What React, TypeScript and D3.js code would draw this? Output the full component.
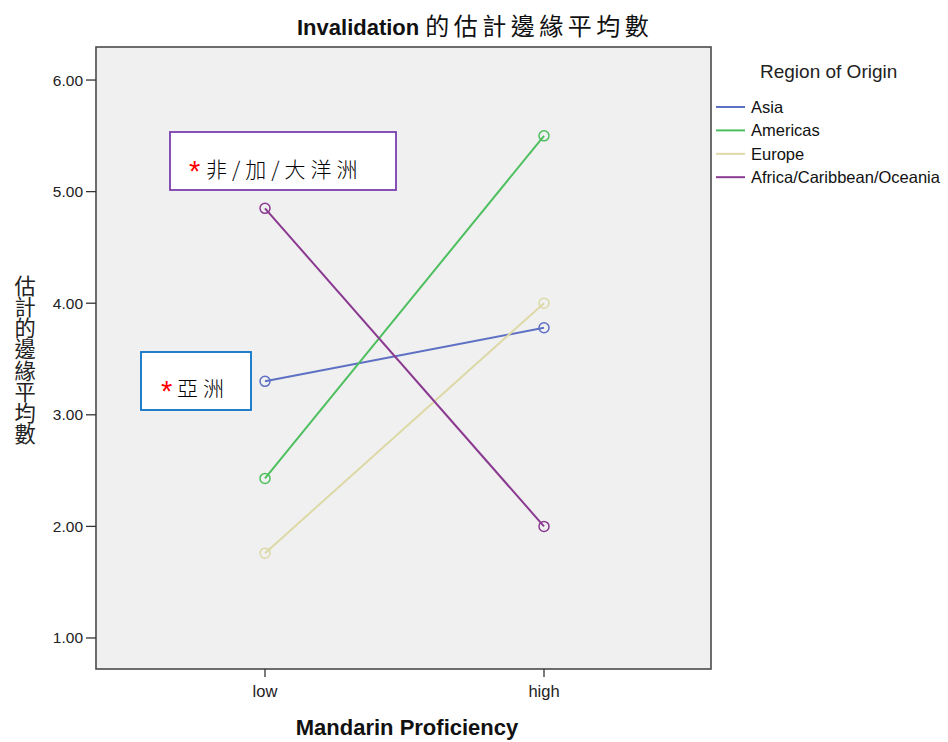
import React from "react";
import * as d3 from "d3";

const categories = ["low", "high"];
const seriesNames = ["Asia", "Americas", "Europe", "Africa/Caribbean/Oceania"];
const asia = [3.3, 3.78];
const americas = [2.43, 5.5];
const europe = [1.76, 4.0];
const africa = [4.85, 2.0];
const yTicks = [1, 2, 3, 4, 5, 6];
const colors = ["#5e70c4", "#4dbf5e", "#dcd9a6", "#8a3a90"];

export default function App() {
  const W = 948, H = 742;
  const left = 96, right = 711, top = 47, bottom = 669;
  const x = d3.scalePoint<string>().domain(categories).range([265, 544]);
  const y = d3.scaleLinear().domain([0.722, 6.296]).range([bottom, top]);
  const series = [asia, americas, europe, africa];
  const line = d3
    .line<number>()
    .x((_, i) => x(categories[i]) as number)
    .y((d) => y(d));
  const sans = "'Liberation Sans', Arial, sans-serif";
  const cjk = "'Noto Sans CJK TC', 'Liberation Sans', sans-serif";
  return (
    <svg
      width={W}
      height={H}
      style={{ position: "absolute", left: 0, top: 0, background: "#fff" }}
    >
      <text x={297} y={35} fill="#111">
        <tspan fontFamily={sans} fontWeight="bold" fontSize={22}>
          Invalidation
        </tspan>
        <tspan fontFamily={cjk} fontSize={24} letterSpacing={4.5} dx={6}>
          的估計邊緣平均數
        </tspan>
      </text>
      <rect
        x={left}
        y={top}
        width={right - left}
        height={bottom - top}
        fill="#f0f0f0"
        stroke="#4a4a4a"
        strokeWidth={1.6}
      />
      {yTicks.map((t) => (
        <g key={t}>
          <line x1={left - 10} x2={left} y1={y(t)} y2={y(t)} stroke="#333" strokeWidth={1.3} />
          <text
            x={left - 13}
            y={y(t) + 5.5}
            textAnchor="end"
            fontFamily={sans}
            fontSize={15.5}
            fill="#222"
          >
            {t.toFixed(2)}
          </text>
        </g>
      ))}
      {categories.map((c) => (
        <g key={c}>
          <line
            x1={x(c)}
            x2={x(c)}
            y1={bottom}
            y2={bottom + 8}
            stroke="#333"
            strokeWidth={1.3}
          />
          <text
            x={x(c)}
            y={bottom + 28}
            textAnchor="middle"
            fontFamily={sans}
            fontSize={16.5}
            fill="#222"
          >
            {c}
          </text>
        </g>
      ))}
      <text
        x={407}
        y={735}
        textAnchor="middle"
        fontFamily={sans}
        fontWeight="bold"
        fontSize={22}
        fill="#111"
      >
        Mandarin Proficiency
      </text>
      <text
        x={25}
        y={275}
        writingMode="vertical-rl"
        fontFamily={cjk}
        fontSize={21.25}
        fill="#222"
      >
        估計的邊緣平均數
      </text>
      {series.map((s, si) => (
        <g key={si}>
          <path d={line(s) || ""} fill="none" stroke={colors[si]} strokeWidth={2} />
          {s.map((v, i) => (
            <circle
              key={i}
              cx={x(categories[i])}
              cy={y(v)}
              r={5}
              fill="none"
              stroke={colors[si]}
              strokeWidth={1.5}
            />
          ))}
        </g>
      ))}
      {/* annotation boxes */}
      <rect x={170} y={132} width={226} height={58} fill="#fff" stroke="#7a3fae" strokeWidth={1.8} />
      <text x={189} y={181} fontFamily={sans} fontSize={29} fill="#ff0000">*</text>
      <text x={206} y={177} fontFamily={cjk} fontSize={21} fill="#000" letterSpacing={5} fontWeight={300}>
        非/加/大洋洲
      </text>
      <rect x={141} y={352} width={110} height={58} fill="#fff" stroke="#0a72c6" strokeWidth={1.8} />
      <text x={161} y={401} fontFamily={sans} fontSize={29} fill="#ff0000">*</text>
      <text x={177} y={396} fontFamily={cjk} fontSize={21} fill="#000" letterSpacing={5} fontWeight={300}>
        亞洲
      </text>
      {/* legend */}
      <text x={760} y={78} fontFamily={sans} fontSize={19} fill="#222">
        Region of Origin
      </text>
      {seriesNames.map((n, i) => (
        <g key={n}>
          <line
            x1={716}
            x2={745}
            y1={107 + i * 23.4}
            y2={107 + i * 23.4}
            stroke={colors[i]}
            strokeWidth={2}
          />
          <text x={751} y={113 + i * 23.4} fontFamily={sans} fontSize={16.5} fill="#111">
            {n}
          </text>
        </g>
      ))}
    </svg>
  );
}
